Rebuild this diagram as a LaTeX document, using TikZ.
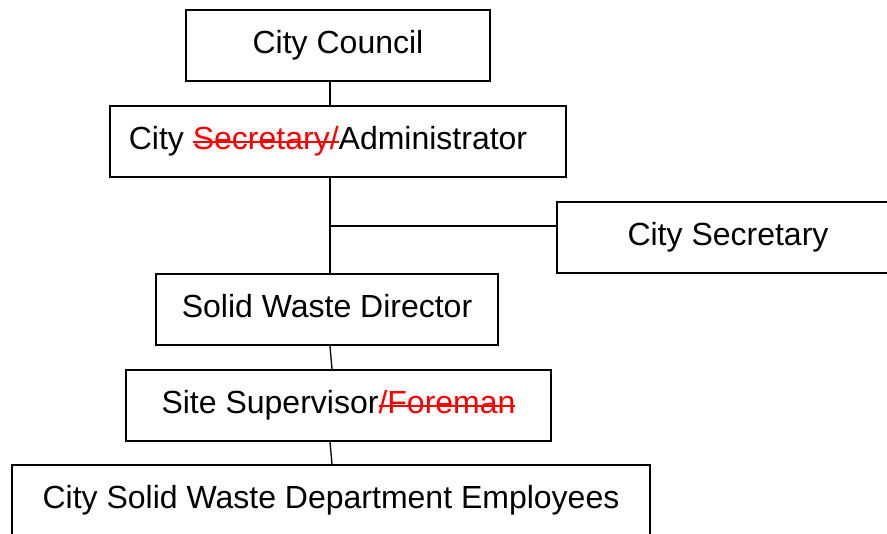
\documentclass[tikz,border=0pt]{standalone}
\usepackage{fontspec}
\setmainfont{Liberation Sans}
% red text with a line drawn through it
\newsavebox{\strikebox}
\newcommand{\struck}[1]{{\color{red}\sbox{\strikebox}{#1}%
  \rlap{\rule[6.8pt]{\wd\strikebox}{1.4pt}}\usebox{\strikebox}}}
\begin{document}
\begin{tikzpicture}[x=1pt,y=-1pt,
  orgbox/.style={draw=black, line width=1.6pt, rectangle, inner sep=0pt,
    font=\fontsize{32}{38}\selectfont, text height=23pt, text depth=7pt},
  link/.style={draw=black, line width=1.3pt}]
\useasboundingbox (0,0) rectangle (887,534);
\clip (0,0) rectangle (887,534);

% boxes of the chart
\node[orgbox, minimum width=304pt, minimum height=71pt] (council) at (338,45.5) {City Council};
\node[orgbox, minimum width=456pt, minimum height=71pt] (admin) at (338,141.5)
  {City \struck{Secretary/}Administrator\kern20pt};
\node[orgbox, minimum width=363pt, minimum height=71pt] (secretary) at (738.5,237.5)
  {City Secretary\kern21pt};
\node[orgbox, minimum width=342pt, minimum height=71pt] (director) at (327,309.5) {Solid Waste Director};
\node[orgbox, minimum width=425pt, minimum height=71pt] (supervisor) at (338.5,405.5)
  {Site Supervisor\struck{/Foreman}};
\node[orgbox, minimum width=638pt, minimum height=72pt] (staff) at (331,501)
  {City Solid Waste Department Employees};

% main vertical spine
\coordinate (spine) at (330,0);
\coordinate (branch) at ([yshift=11.5pt]secretary.west);

\draw[link] (council.south -| spine) -- (admin.north -| spine);
\draw[link] (admin.south -| spine) -- (director.north -| spine);
\draw[link] (spine |- branch) -- (branch);
\draw[link] ([xshift=3pt]director.south) -- ([xshift=-6.5pt]supervisor.north);
\draw[link] ([xshift=-8.5pt]supervisor.south) -- ([xshift=1pt]staff.north);
\end{tikzpicture}
\end{document}
